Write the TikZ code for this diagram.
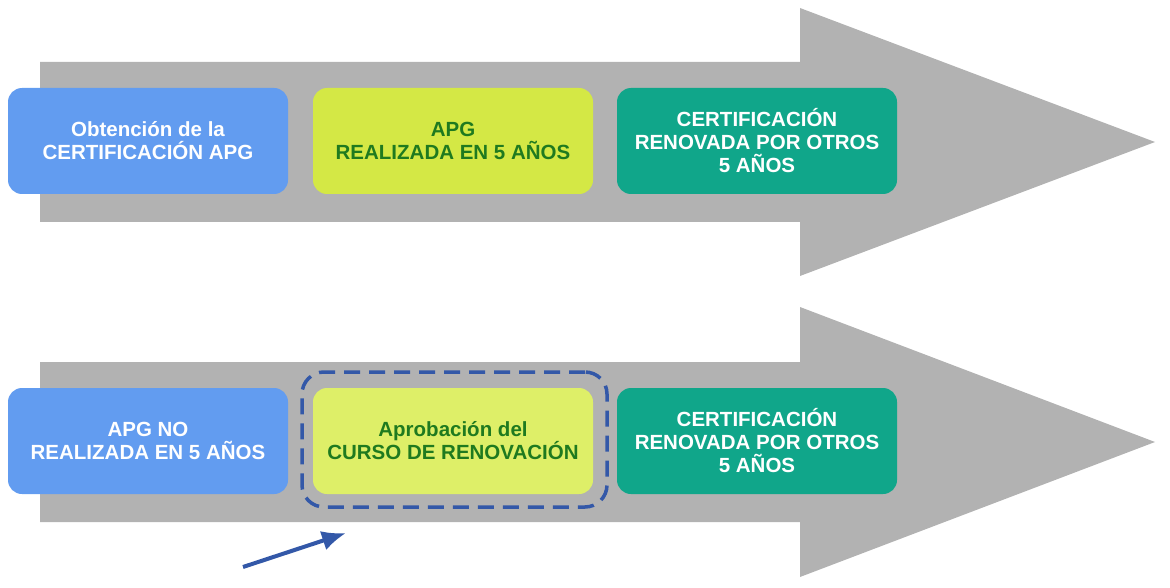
\documentclass[tikz,border=0pt]{standalone}
\usepackage{fontspec}
\setmainfont{Liberation Sans}
\usetikzlibrary{arrows.meta}
\begin{document}
\begin{tikzpicture}[x=1pt,y=-1pt,
  box/.style={rounded corners=14pt,minimum width=280pt,minimum height=106pt,align=center,font=\bfseries\fontsize{20.5}{23}\selectfont,inner sep=0pt},
  bl/.style={box,fill=boxblue,text=white},
  yl/.style={box,fill=boxyel,text=txtgreen},
  gr/.style={box,fill=boxgreen,text=white},
  bigarrow/.style={fill=arrgray}]
\definecolor{boxblue}{HTML}{629CF0}
\definecolor{boxyel}{HTML}{D4E845}
\definecolor{boxyel2}{HTML}{DEEF68}
\definecolor{boxgreen}{HTML}{10A68A}
\definecolor{txtgreen}{HTML}{1F7A1F}
\definecolor{arrgray}{HTML}{B2B2B2}
\definecolor{dashblue}{HTML}{3358A8}
\useasboundingbox (0,0) rectangle (1170,588);
\fill[bigarrow] (40,62)--(800,62)--(800,8)--(1155,142)--(800,276)--(800,222)--(40,222)--cycle;
\fill[bigarrow] (40,362)--(800,362)--(800,307)--(1155,442)--(800,577)--(800,522)--(40,522)--cycle;
\node[bl] (a1) at (148,141) {Obtención de la\\CERTIFICACIÓN APG};
\node[yl] (a2) at (453,141) {APG\\REALIZADA EN 5 AÑOS};
\node[gr] (a3) at (757,141) {CERTIFICACIÓN\\RENOVADA POR OTROS\\5 AÑOS};
\node[bl] (b1) at (148,441) {APG NO\\REALIZADA EN 5 AÑOS};
\node[yl,fill=boxyel2] (b2) at (453,441) {Aprobación del\\CURSO DE RENOVACIÓN};
\node[gr] (b3) at (757,441) {CERTIFICACIÓN\\RENOVADA POR OTROS\\5 AÑOS};
\node[draw=dashblue,line width=3.5pt,dash pattern=on 16pt off 9pt,rounded corners=22pt,minimum width=305pt,minimum height=135pt] (hl) at (454.5,439.5) {};
\coordinate (s) at (243,567);
\coordinate (e) at (346,533);
\draw[dashblue,line width=4pt,-{Latex[length=24pt,width=20pt]}] (s) -- (e);
\end{tikzpicture}
\end{document}
